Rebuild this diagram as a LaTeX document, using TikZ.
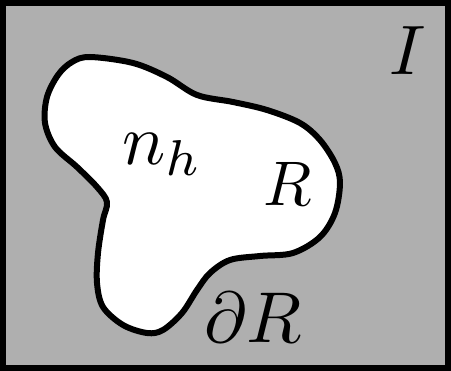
\documentclass[tikz,border=0pt]{standalone}
\definecolor{bggray}{RGB}{175,175,175}
\tikzset{
  frame/.style={line width=5.5pt, draw=black, fill=bggray},
  blob/.style={line width=6pt, draw=black, fill=white, line join=round},
  lbl/.style={inner sep=0pt, text=black}
}
\begin{document}
\begin{tikzpicture}[x=1pt,y=-1pt]
\useasboundingbox (0,0) rectangle (451,371);
\draw[frame] (3,3) rectangle (448,368);
\draw[blob] plot[smooth cycle, tension=0.55] coordinates {
 (90,57) (133,63) (167,77) (197,95) (233,102) (267,110) (300,123)
 (320,140) (335,163) (340,183) (335,213) (320,237) (293,253) (260,256)
 (230,260) (210,273) (197,290) (182,313) (163,330) (147,333) (123,325)
 (103,307) (97,283) (98,253) (103,220) (107,202) (97,187) (77,167)
 (55,147) (45,123) (47,97) (58,75) (72,62)};
\node[lbl, scale=7.0] (I) at (408,51) {$I$};
\node[lbl, scale=7.2, anchor=base west] (nh) at (121,165) {$n_h$};
\node[lbl, scale=6.3] (R) at (288,183.5) {$R$};
\node[lbl, scale=7.2] (dR) at (253,318) {$\partial R$};
\end{tikzpicture}
\end{document}
